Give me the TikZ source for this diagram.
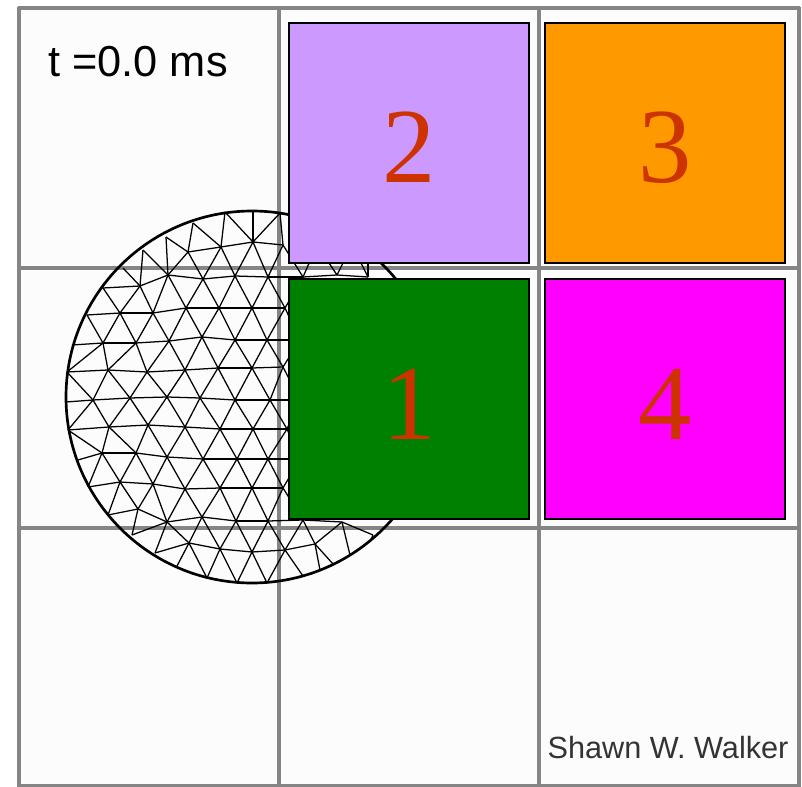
\documentclass[tikz,border=0pt]{standalone}
\usepackage{xcolor}
\usepackage{fontspec}
\setmainfont{Liberation Serif}
\setsansfont{Liberation Sans}
\usetikzlibrary{positioning}

\definecolor{padpurple}{HTML}{CC99FF}
\definecolor{padorange}{HTML}{FF9900}
\definecolor{padgreen}{HTML}{008000}
\definecolor{padmagenta}{HTML}{FF00FF}
\definecolor{padnumber}{HTML}{CC3300}
\definecolor{gridgray}{HTML}{858585}

\begin{document}
\begin{tikzpicture}[x=0.75pt, y=-0.75pt, node distance=192pt,
    padbox/.style={draw=black, line width=1.1pt, minimum size=180pt, inner sep=0pt,
        text height=60pt, text=padnumber, font=\fontsize{80}{80}\selectfont},
    gridline/.style={draw=gridgray, line width=2.3pt},
    meshline/.style={draw=black, line width=0.95pt}]
    \useasboundingbox (0,0) rectangle (802,787);
    \fill[white] (0,0) rectangle (802,787);
    \fill[black!1] (19,8) rectangle (799,786);

    % grid
    \foreach \gx in {19,279,539,799}
        \draw[gridline] (\gx,7) -- (\gx,787);
    \foreach \gy in {8,268,528,786}
        \draw[gridline] (18,\gy) -- (800,\gy);

    % mesh points, boundary first and then row by row
    \foreach \n/\x/\y in {t1/193/223, t2/225/212, t3/253/211, t4/280/213,
        b1/166/237, b2/143/250, b3/123/268, b4/103/288, b5/87/315, b6/72/345, b7/67/372,
        b8/66/402, b9/68/430, b10/78/460, b11/88/487, b12/108/515, b13/132/535, b14/155/553,
        b15/177/566, b16/207/578, b18/237/583, b19/267/583, b20/303/576, b21/320/570,
        b22/333/564, b23/350/555, b24/370/542,
        a1/188/252, a2/221/247, a3/253/242, a4/283/245, a5/317/245, a6/352/245, a7/368/240,
        c1/140/286, c2/168/275, c3/203/279, c4/235/276, c5/268/277, c6/303/277, c7/337/275, c8/368/277,
        d1/120/313, d2/153/313, d3/186/308, d4/219/308, d5/252/308, d6/285/308,
        e1/103/343, e2/136/343, e3/169/341, e4/202/337, e5/235/340, e6/267/340, e7/300/340,
        f1/108/370, f2/147/372, f3/185/370, f4/218/368, f5/252/368, f6/283/367,
        g1/93/400, g2/130/398, g3/167/397, g4/200/398, g5/235/400, g6/270/400, g7/300/400,
        h1/109/427, h2/148/425, h3/185/427, h4/220/429, h5/253/429, h6/287/429,
        i1/102/453, i2/136/453, i3/167/457, i4/203/459, i5/237/459, i6/268/459, i7/300/459,
        j1/120/482, j2/153/484, j3/185/489, j4/220/488, j5/252/488, j6/283/488,
        k2/138/509, k3/167/522, k4/202/517, k5/236/521, k6/268/521, k7/303/520, k8/342/522,
        l1/189/543, l2/220/549, l3/252/552, l4/285/550, l5/315/544, l6/373/535}
        \coordinate (\n) at (\x,\y);

    % mesh rows
    \foreach \a/\b in {a1/a2, a2/a3, a3/a4, b4/c1, c1/c2, c2/c3, c3/c4, c4/c5, c5/c6, c6/c7, c7/c8,
        b5/d1, d1/d2, d2/d3, d3/d4, d4/d5, d5/d6,
        b6/e1, e1/e2, e2/e3, e3/e4, e4/e5, e5/e6, e6/e7,
        b7/f1, f1/f2, f2/f3, f3/f4, f4/f5, f5/f6,
        b8/g1, g1/g2, g2/g3, g3/g4, g4/g5, g5/g6, g6/g7,
        b9/h1, h1/h2, h2/h3, h3/h4, h4/h5, h5/h6,
        b10/i1, i1/i2, i2/i3, i3/i4, i4/i5, i5/i6, i6/i7,
        b11/j1, j1/j2, j2/j3, j3/j4, j4/j5, j5/j6,
        b12/k2, k2/k3, k3/k4, k4/k5, k5/k6, k6/k7, k7/k8,
        b14/l1, l1/l2, l2/l3, l3/l4, l4/l5}
        \draw[meshline] (\a) -- (\b);

    % mesh diagonals
    \foreach \a/\b in {t1/a1, t1/a2, t2/a2, t2/a3, t3/a3, t4/a3, t4/a4, b1/a1, b1/c2, b2/c1, b2/c2, b3/c1,
        a1/c2, a1/c3, a2/c3, a2/c4, a3/c4, a3/c5, a4/c5, a4/c6, a5/c6, a5/c7, a6/c7, a6/c8, a7/c8,
        b4/d1, c1/d1, c1/d2, c2/d2, c2/d3, c3/d3, c3/d4, c4/d4, c4/d5, c5/d5, c5/d6, c6/d6,
        b5/e1, d1/e1, d1/e2, d2/e2, d2/e3, d3/e3, d3/e4, d4/e4, d4/e5, d5/e5, d5/e6, d6/e6, d6/e7,
        b7/e1, e1/f1, e2/f1, e2/f2, e3/f2, e3/f3, e4/f3, e4/f4, e5/f4, e5/f5, e6/f5, e6/f6, e7/f6,
        b7/g1, f1/g1, f1/g2, f2/g2, f2/g3, f3/g3, f3/g4, f4/g4, f4/g5, f5/g5, f5/g6, f6/g6, f6/g7,
        b9/g1, g1/h1, g2/h1, g2/h2, g3/h2, g3/h3, g4/h3, g4/h4, g5/h4, g5/h5, g6/h5, g6/h6, g7/h6,
        b9/i1, h1/i1, h1/i2, h2/i2, h2/i3, h3/i3, h3/i4, h4/i4, h4/i5, h5/i5, h5/i6, h6/i6, h6/i7,
        b11/i1, i1/j1, i2/j1, i2/j2, i3/j2, i3/j3, i4/j3, i4/j4, i5/j4, i5/j5, i6/j5, i6/j6, i7/j6,
        b12/j1, j1/k2, j2/k2, j2/k3, j3/k3, j3/k4, j4/k4, j4/k5, j5/k5, j5/k6, j6/k6, j6/k7,
        b13/k2, b13/k3, b14/k3, k3/l1, k4/l1, k4/l2, k5/l2, k5/l3, k6/l3, k6/l4, k7/l4, k7/l5, k8/l5,
        l1/b15, l1/b16, l2/b16, l2/b18, l3/b18, l3/b19, l4/b19, l4/b20, l5/b21, l5/b22,
        k8/b23, k8/l6, l6/b24}
        \draw[meshline] (\a) -- (\b);

    \node[circle, draw=black, line width=2pt, minimum size=279pt, inner sep=0pt] (drop) at (252,397) {};

    % pads
    \node[padbox, fill=padgreen] (pad1) at (409,399) {1};
    \node[padbox, fill=padpurple, above of=pad1] (pad2) {2};
    \node[padbox, fill=padorange, right of=pad2] (pad3) {3};
    \node[padbox, fill=padmagenta, right of=pad1] (pad4) {4};

    \node[font=\sffamily\fontsize{32.5}{34}\selectfont, text=black] (timelabel) at (138,62) {t =0.0 ms};
    \node[font=\sffamily\fontsize{23}{25}\selectfont, text=black!80] (authorlabel) at (668,748) {Shawn W. Walker};
\end{tikzpicture}
\end{document}
